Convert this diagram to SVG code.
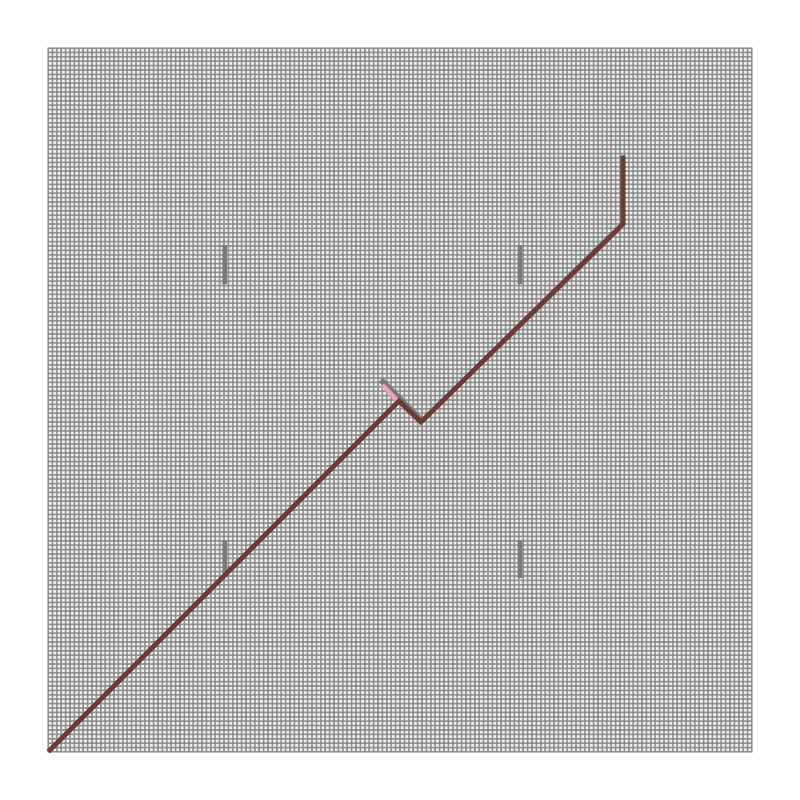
<svg xmlns="http://www.w3.org/2000/svg" width="800" height="800" viewBox="0 0 800 800">
  <defs>
    <pattern id="cell" patternUnits="userSpaceOnUse" x="48" y="48" width="4.4" height="4.4">
      <rect x="0" y="0" width="4.4" height="4.4" fill="#f2f2f2" stroke="#858585" stroke-width="1.5"/>
    </pattern>
  </defs>
  <style>
    .bar { fill: #7a7a7a; }
    .path { fill: none; stroke: #6b3b34; stroke-width: 5; stroke-linejoin: miter; stroke-linecap: square; }
  </style>
  <rect x="0" y="0" width="800" height="800" fill="#ffffff"/>
  <g id="grid">
    <rect x="48" y="48" width="704" height="704" fill="url(#cell)"/>
    <rect x="48" y="48" width="704" height="704" fill="none" stroke="#858585" stroke-width="1"/>
  </g>
  <g id="markers">
    <rect id="m1" class="bar" x="222.4" y="245" width="4.6" height="39"/>
    <rect id="m2" class="bar" x="517.6" y="245" width="4.8" height="39"/>
    <rect id="m3" class="bar" x="517.6" y="541" width="4.8" height="37"/>
    <rect id="m4" class="bar" x="222.4" y="541" width="4.6" height="36"/>
  </g>
  <g id="connectors">
    <line x1="383" y1="382" x2="421" y2="420" stroke="#777777" stroke-width="6" stroke-linecap="square"/>
    <line x1="384" y1="386" x2="397" y2="400" stroke="#f0a0b4" stroke-width="4" stroke-linecap="square"/>
    <polyline class="path" points="50,750 399,401 421,422 623,224 623,158"/>
  </g>
</svg>
